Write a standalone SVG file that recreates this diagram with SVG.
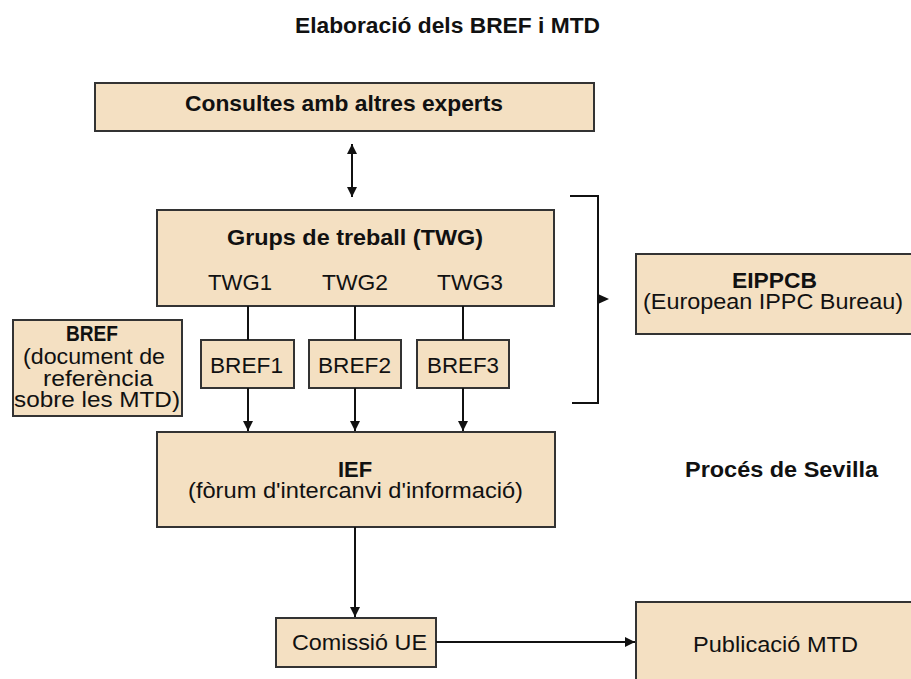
<svg xmlns="http://www.w3.org/2000/svg" width="911" height="679" viewBox="0 0 911 679">
<defs>
<style>
.box{fill:#F4E0C2;stroke:#333;stroke-width:2}
.t{font-family:"Liberation Sans",Arial,sans-serif;font-size:22px;fill:#111;text-anchor:middle}
.b{font-weight:bold}
.ln{stroke:#111;stroke-width:2;fill:none}
</style>
<marker id="ah" viewBox="0 0 10 10" refX="10" refY="5" markerWidth="5" markerHeight="5" orient="auto-start-reverse" markerUnits="strokeWidth">
<path d="M0,0 L10,5 L0,10 z" fill="#111"/>
</marker>
</defs>
<rect width="911" height="679" fill="#fff"/>
<text class="t b" x="447.5" y="33" textLength="305" lengthAdjust="spacingAndGlyphs">Elaboració dels BREF i MTD</text>
<text class="t b" x="781.5" y="477" textLength="193" lengthAdjust="spacingAndGlyphs">Procés de Sevilla</text>

<g id="consultes">
<rect class="box" x="95" y="83" width="499" height="48"/>
<text class="t b" x="344" y="111" textLength="318" lengthAdjust="spacingAndGlyphs">Consultes amb altres experts</text>
</g>
<g id="twg">
<rect class="box" x="157" y="210" width="397" height="96"/>
<text class="t b" x="355" y="245" textLength="256" lengthAdjust="spacingAndGlyphs">Grups de treball (TWG)</text>
<text class="t" x="240" y="290" textLength="64" lengthAdjust="spacingAndGlyphs">TWG1</text>
<text class="t" x="355" y="290" textLength="66" lengthAdjust="spacingAndGlyphs">TWG2</text>
<text class="t" x="470" y="290" textLength="66" lengthAdjust="spacingAndGlyphs">TWG3</text>
</g>
<g id="bref1">
<rect class="box" x="201" y="340" width="93" height="48"/>
<text class="t" x="246.5" y="373" textLength="73" lengthAdjust="spacingAndGlyphs">BREF1</text>
</g>
<g id="bref2">
<rect class="box" x="309" y="340" width="92" height="48"/>
<text class="t" x="354.5" y="373" textLength="73" lengthAdjust="spacingAndGlyphs">BREF2</text>
</g>
<g id="bref3">
<rect class="box" x="417" y="340" width="92" height="48"/>
<text class="t" x="463" y="373" textLength="72" lengthAdjust="spacingAndGlyphs">BREF3</text>
</g>
<g id="bref-legend">
<rect class="box" x="13" y="320" width="169" height="96"/>
<text class="t b" x="92" y="341" textLength="52" lengthAdjust="spacingAndGlyphs">BREF</text>
<text class="t" x="94" y="364" textLength="142" lengthAdjust="spacingAndGlyphs">(document de</text>
<text class="t" x="98" y="386" textLength="110" lengthAdjust="spacingAndGlyphs">referència</text>
<text class="t" x="97" y="407" textLength="166" lengthAdjust="spacingAndGlyphs">sobre les MTD)</text>
</g>
<g id="eippcb">
<rect class="box" x="636" y="254" width="290" height="80"/>
<text class="t b" x="774.5" y="288" textLength="85" lengthAdjust="spacingAndGlyphs">EIPPCB</text>
<text class="t" x="773" y="309" textLength="260" lengthAdjust="spacingAndGlyphs">(European IPPC Bureau)</text>
</g>
<g id="ief">
<rect class="box" x="157" y="432" width="398" height="95"/>
<text class="t b" x="355" y="477">IEF</text>
<text class="t" x="355.5" y="498" textLength="335" lengthAdjust="spacingAndGlyphs">(fòrum d'intercanvi d'informació)</text>
</g>
<g id="comissio">
<rect class="box" x="276" y="618" width="160" height="49"/>
<text class="t" x="359.5" y="650" textLength="135" lengthAdjust="spacingAndGlyphs">Comissió UE</text>
</g>
<g id="publicacio">
<rect class="box" x="636" y="602" width="290" height="100"/>
<text class="t" x="775.5" y="652" textLength="165" lengthAdjust="spacingAndGlyphs">Publicació MTD</text>
</g>

<g id="connectors">
<line class="ln" x1="352" y1="144" x2="352" y2="197" marker-start="url(#ah)" marker-end="url(#ah)"/>
<line class="ln" x1="248" y1="306" x2="248" y2="340"/>
<line class="ln" x1="355" y1="306" x2="355" y2="340"/>
<line class="ln" x1="463" y1="306" x2="463" y2="340"/>
<line class="ln" x1="248" y1="388" x2="248" y2="431" marker-end="url(#ah)"/>
<line class="ln" x1="355" y1="388" x2="355" y2="431" marker-end="url(#ah)"/>
<line class="ln" x1="463" y1="388" x2="463" y2="431" marker-end="url(#ah)"/>
<line class="ln" x1="355" y1="527" x2="355" y2="617" marker-end="url(#ah)"/>
<line class="ln" x1="436" y1="642" x2="635" y2="642" marker-end="url(#ah)"/>
<path class="ln" d="M570,196 H598 V403 H572"/>
<path d="M598,294 L609,299 L598,304 z" fill="#111"/>
</g>
</svg>
